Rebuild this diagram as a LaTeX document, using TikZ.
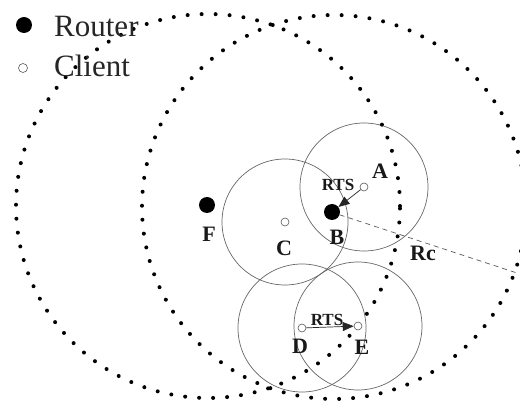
\documentclass[tikz,border=0pt]{standalone}
\usepackage{fontspec}
\setmainfont{Liberation Serif}
\usetikzlibrary{arrows.meta}
\begin{document}
\begin{tikzpicture}[x=1pt,y=-1pt,
  router/.style={circle,fill=black,minimum size=16pt,inner sep=0pt},
  client/.style={circle,draw=black!65,fill=white,line width=0.6pt,minimum size=8pt,inner sep=0pt},
  rangecircle/.style={draw=black!60,line width=0.7pt},
  dotcircle/.style={draw=black,line width=4pt,line cap=round,dash pattern=on 0pt off 14pt},
  lbl/.style={font=\fontsize{22}{24}\selectfont\bfseries,text=black!90,inner sep=0pt},
  rts/.style={font=\fontsize{17}{18}\selectfont\bfseries,text=black!90,inner sep=0pt},
  legend/.style={font=\fontsize{31}{32}\selectfont,text=black!85,inner sep=0pt,anchor=base west},
  arr/.style={draw=black!85,line width=0.7pt,-{Triangle[length=11pt,width=9pt]}},
  rcline/.style={draw=black!65,line width=0.7pt,dash pattern=on 5pt off 4pt}]
\useasboundingbox (0,0) rectangle (520,403);
\clip (0,0) rectangle (520,403);
% coordinates
\coordinate (pA) at (364,187);
\coordinate (pB) at (332,212);
\coordinate (pC) at (285,222);
\coordinate (pD) at (302,328);
\coordinate (pE) at (358,326);
\coordinate (pF) at (207,205);
\coordinate (RcEnd) at (517,273);
% range circles
\draw[rangecircle] (pA) circle[radius=64pt];
\draw[rangecircle] (pC) circle[radius=63pt];
\draw[rangecircle] (pD) circle[radius=64pt];
\draw[rangecircle] (pE) circle[radius=64pt];
% large dotted circles
\draw[dotcircle] (208,206) circle[radius=192pt];
\draw[dotcircle] (334,207) circle[radius=192pt];
% nodes
\node[router] (F) at (pF) {};
\node[router] (B) at (pB) {};
\node[client] (A) at (pA) {};
\node[client] (C) at (pC) {};
\node[client] (D) at (pD) {};
\node[client] (E) at (pE) {};
% connectors
\draw[rcline] (B.-20) -- (RcEnd);
\draw[arr] (A) -- (B);
\draw[arr] (D) -- (E);
% labels
\node[lbl] (lA) at (380,171) {A};
\node[lbl] (lB) at (337,237) {B};
\node[lbl] (lC) at (284,248) {C};
\node[lbl] (lD) at (300,346) {D};
\node[lbl] (lE) at (362,347) {E};
\node[lbl] (lF) at (209,234) {F};
\node[lbl] (lRc) at (423,253) {Rc};
\node[rts] (rts1) at (338,185) {RTS};
\node[rts] (rts2) at (327,320) {RTS};
% legend
\node[router] (legR) at (24,25) {};
\node[client,minimum size=9pt] (legC) at (23,68) {};
\node[legend] (tR) at (54,37) {Router};
\node[legend] (tC) at (54,77) {Client};
\end{tikzpicture}
\end{document}
